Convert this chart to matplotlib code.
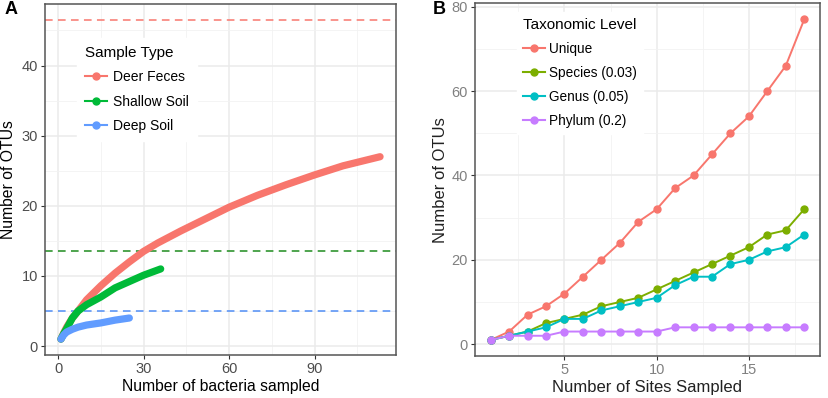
import matplotlib.pyplot as plt
from matplotlib.lines import Line2D

plt.rcParams['font.family'] = ['Liberation Sans', 'DejaVu Sans']

# ---- Panel A: rarefaction curves ----
deer_x = [1, 2, 3, 5, 7, 10, 15, 20, 25, 30, 35, 43, 50, 60, 70, 80, 90, 100, 113]
deer_y = [1, 1.9, 2.7, 4.0, 5.0, 6.6, 8.6, 10.4, 12.0, 13.5, 14.7, 16.4, 17.8, 19.8, 21.5, 23.0, 24.4, 25.7, 27.0]
shallow_x = [1, 2, 3, 5, 7, 10, 15, 20, 25, 30, 36]
shallow_y = [1, 1.8, 2.5, 4.0, 5.0, 5.9, 7.0, 8.3, 9.2, 10.1, 11.0]
deep_x = [1, 2, 3, 5, 7, 10, 15, 20, 25]
deep_y = [1, 1.6, 2.0, 2.4, 2.7, 3.0, 3.3, 3.7, 4.0]
chao_est = [46.5, 13.5, 5.0]  # dashed estimate lines
sample_types = ['Deer Feces', 'Shallow Soil', 'Deep Soil']

# ---- Panel B: OTUs vs sites ----
sites = list(range(1, 19))
unique = [1, 3, 7, 9, 12, 16, 20, 24, 29, 32, 37, 40, 45, 50, 54, 60, 66, 77]
species = [1, 2, 3, 5, 6, 7, 9, 10, 11, 13, 15, 17, 19, 21, 23, 26, 27, 32]
genus = [1, 2, 3, 4, 6, 6, 8, 9, 10, 11, 14, 16, 16, 19, 20, 22, 23, 26]
phylum = [1, 2, 2, 2, 3, 3, 3, 3, 3, 3, 4, 4, 4, 4, 4, 4, 4, 4]
tax_levels = ['Unique', 'Species (0.03)', 'Genus (0.05)', 'Phylum (0.2)']

colsA = ['#F8766D', '#00BA38', '#619CFF']
dashA = ['#F8766D', '#1E8C1E', '#4F8DF5']
colsB = ['#F8766D', '#7CAE00', '#00BFC4', '#C77CFF']


def expand(lo, hi, f=0.05):
    d = (hi - lo) * f
    return lo - d, hi + d


def style_axes(ax, xmaj, xmin, ymaj, ymin, tick_col):
    ax.set_xticks(xmaj)
    ax.set_xticks(xmin, minor=True)
    ax.set_yticks(ymaj)
    ax.set_yticks(ymin, minor=True)
    ax.grid(True, which='major', color='#EBEBEB', lw=1.1)
    ax.grid(True, which='minor', color='#F2F2F2', lw=0.6)
    ax.set_axisbelow(True)
    ax.tick_params(which='minor', length=0)
    ax.tick_params(which='major', length=3, width=0.8, color='#333333',
                   labelsize=10.5, labelcolor=tick_col, pad=2)
    for s in ax.spines.values():
        s.set_color('#555555')
        s.set_linewidth(1.1)


fig = plt.figure(figsize=(8.29, 3.98), dpi=100)

# Panel A
axA = fig.add_axes([0.0543, 0.108, 0.4234, 0.882])
for yv, c in zip(chao_est, dashA):
    axA.axhline(yv, color=c, lw=1.1, ls=(0, (5, 3.5)), zorder=1)
for xs, ys, c in zip([deer_x, shallow_x, deep_x], [deer_y, shallow_y, deep_y], colsA):
    axA.plot(xs, ys, color=c, lw=5.2, solid_capstyle='round', zorder=2)
axA.set_xlim(*expand(1, 113))
axA.set_ylim(*expand(1, 46.5))
style_axes(axA, [0, 30, 60, 90], [15, 45, 75, 105], [0, 10, 20, 30, 40],
           [5, 15, 25, 35, 45], '#4D4D4D')
axA.set_xlabel('Number of bacteria sampled', fontsize=11.3, labelpad=2)
axA.set_ylabel('Number of OTUs', fontsize=11.3, labelpad=4)
hA = [Line2D([], [], color=c, lw=1.5, marker='o', ms=5) for c in colsA]
legA = axA.legend(hA, sample_types, title='Sample Type', loc='upper left',
                  bbox_to_anchor=(0.091, 0.903), fontsize=10, title_fontsize=11,
                  frameon=True, fancybox=False, edgecolor='white', framealpha=1,
                  handlelength=1.6, handletextpad=0.45, labelspacing=0.75,
                  borderpad=0.55, borderaxespad=0)
legA._legend_box.align = 'left'
legA.set_zorder(5)
fig.text(0.006, 0.975, 'A', fontsize=13, fontweight='bold', va='center')

# Panel B
axB = fig.add_axes([0.573, 0.1055, 0.416, 0.886])
for ys, c in zip([unique, species, genus, phylum], colsB):
    axB.plot(sites, ys, color=c, lw=1.4, marker='o', ms=5, zorder=2)
axB.set_xlim(*expand(1, 18))
axB.set_ylim(*expand(1, 77))
style_axes(axB, [5, 10, 15], [2.5, 7.5, 12.5, 17.5], [0, 20, 40, 60, 80],
           [10, 30, 50, 70], '#808080')
axB.set_xlabel('Number of Sites Sampled', fontsize=12, color='#222222', labelpad=2)
axB.set_ylabel('Number of OTUs', fontsize=12, color='#222222', labelpad=3)
hB = [Line2D([], [], color=c, lw=1.5, marker='o', ms=5) for c in colsB]
legB = axB.legend(hB, tax_levels, title='Taxonomic Level', loc='upper left',
                  bbox_to_anchor=(0.122, 0.975), fontsize=9.8, title_fontsize=11,
                  frameon=True, fancybox=False, edgecolor='white', framealpha=1,
                  handlelength=1.6, handletextpad=0.3, labelspacing=0.72,
                  borderpad=0.45, borderaxespad=0)
legB._legend_box.align = 'left'
legB.set_zorder(5)
fig.text(0.522, 0.975, 'B', fontsize=13, fontweight='bold', va='center')

fig.savefig('out.png', dpi=100)
